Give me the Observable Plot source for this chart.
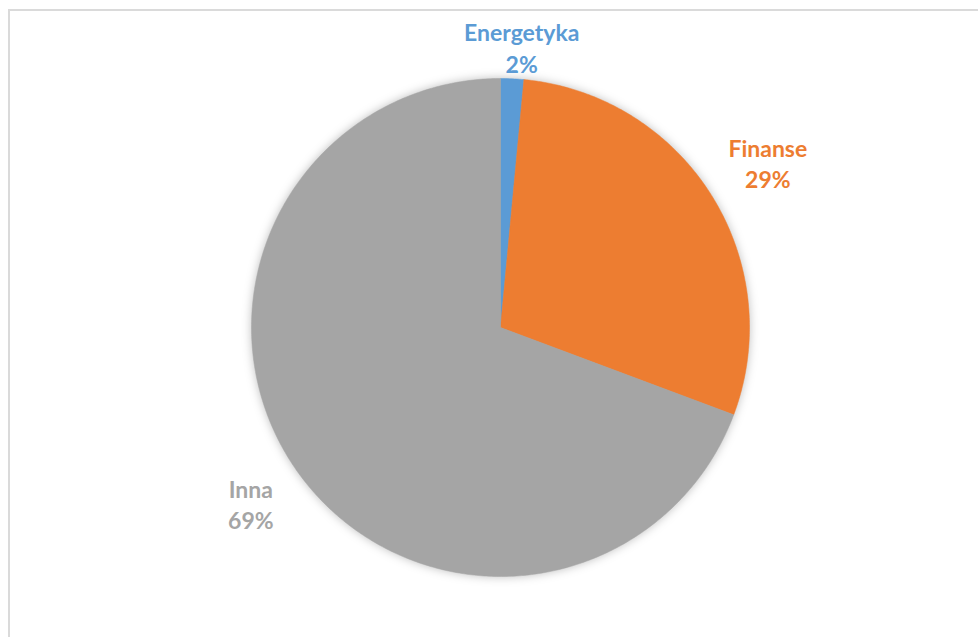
<!DOCTYPE html>
<html>
<head>
<meta charset="utf-8">
<script src="https://cdn.jsdelivr.net/npm/d3@7"></script>
<script src="https://cdn.jsdelivr.net/npm/@observablehq/plot@0.6"></script>
<style>
  html, body { margin: 0; padding: 0; background: #fff; }
  #wrap { position: relative; width: 978px; height: 637px; overflow: hidden; }
  #frame { position: absolute; left: 8px; top: 9px; width: 980px; height: 640px;
           border-top: 2px solid #dadada; border-left: 2px solid #dadada; box-sizing: border-box; }
  #chart { position: absolute; left: 0; top: 0; }
</style>
</head>
<body>
<div id="wrap"><div id="frame"></div><div id="chart"></div></div>
<script>
// Data
const categories = ["Energetyka", "Finanse", "Inna"];
const values = [1.5, 29.2, 69.3];
const colors = ["#5b9bd5", "#ed7d31", "#a5a5a5"];

// Layout
const W = 978, H = 637, cx = 500, cy = 327, R = 249;

const pie = d3.pie().sort(null).value(d => d.value);
const arcs = pie(categories.map((c, i) => ({category: c, value: values[i]})));

// slice outlines in unit coordinates (angle measured clockwise from top)
const slicePts = [];
arcs.forEach(a => {
  const n = Math.max(2, Math.ceil((a.endAngle - a.startAngle) / 0.01));
  slicePts.push({category: a.data.category, x: 0, y: 0});
  for (let k = 0; k <= n; k++) {
    const t = a.startAngle + (a.endAngle - a.startAngle) * k / n;
    slicePts.push({category: a.data.category, x: Math.sin(t), y: Math.cos(t)});
  }
  slicePts.push({category: a.data.category, x: 0, y: 0});
});

const labels = arcs.map(a => {
  const m = (a.startAngle + a.endAngle) / 2;
  const d = 1 + (30 + 37 * Math.abs(Math.sin(m))) / R;
  return {category: a.data.category, x: d * Math.sin(m) + 8 / R * Math.abs(Math.cos(m)), y: d * Math.cos(m),
          text: a.data.category + "\n" + Math.round(a.data.value) + "%"};
});

const plot = Plot.plot({
  width: W, height: H,
  margin: 0,
  x: {domain: [-1, 1], range: [cx - R, cx + R], axis: null},
  y: {domain: [-1, 1], range: [cy + R, cy - R], axis: null},
  color: {domain: categories, range: colors},
  style: {background: "transparent"},
  marks: [
    Plot.line(slicePts, {x: "x", y: "y", z: "category", fill: "category", stroke: "category", strokeWidth: 0.5}),
    Plot.text(labels, {x: "x", y: "y", text: "text", fill: "category", fontSize: 23, fontWeight: "bold",
      fontFamily: "Lato, 'Open Sans', sans-serif", lineHeight: 1.36})
  ]
});
plot.querySelectorAll("g[aria-label='line']").forEach(g => g.style.filter = "drop-shadow(0px 0px 5px rgba(0,0,0,0.25))");
document.getElementById("chart").appendChild(plot);
</script>
</body>
</html>
